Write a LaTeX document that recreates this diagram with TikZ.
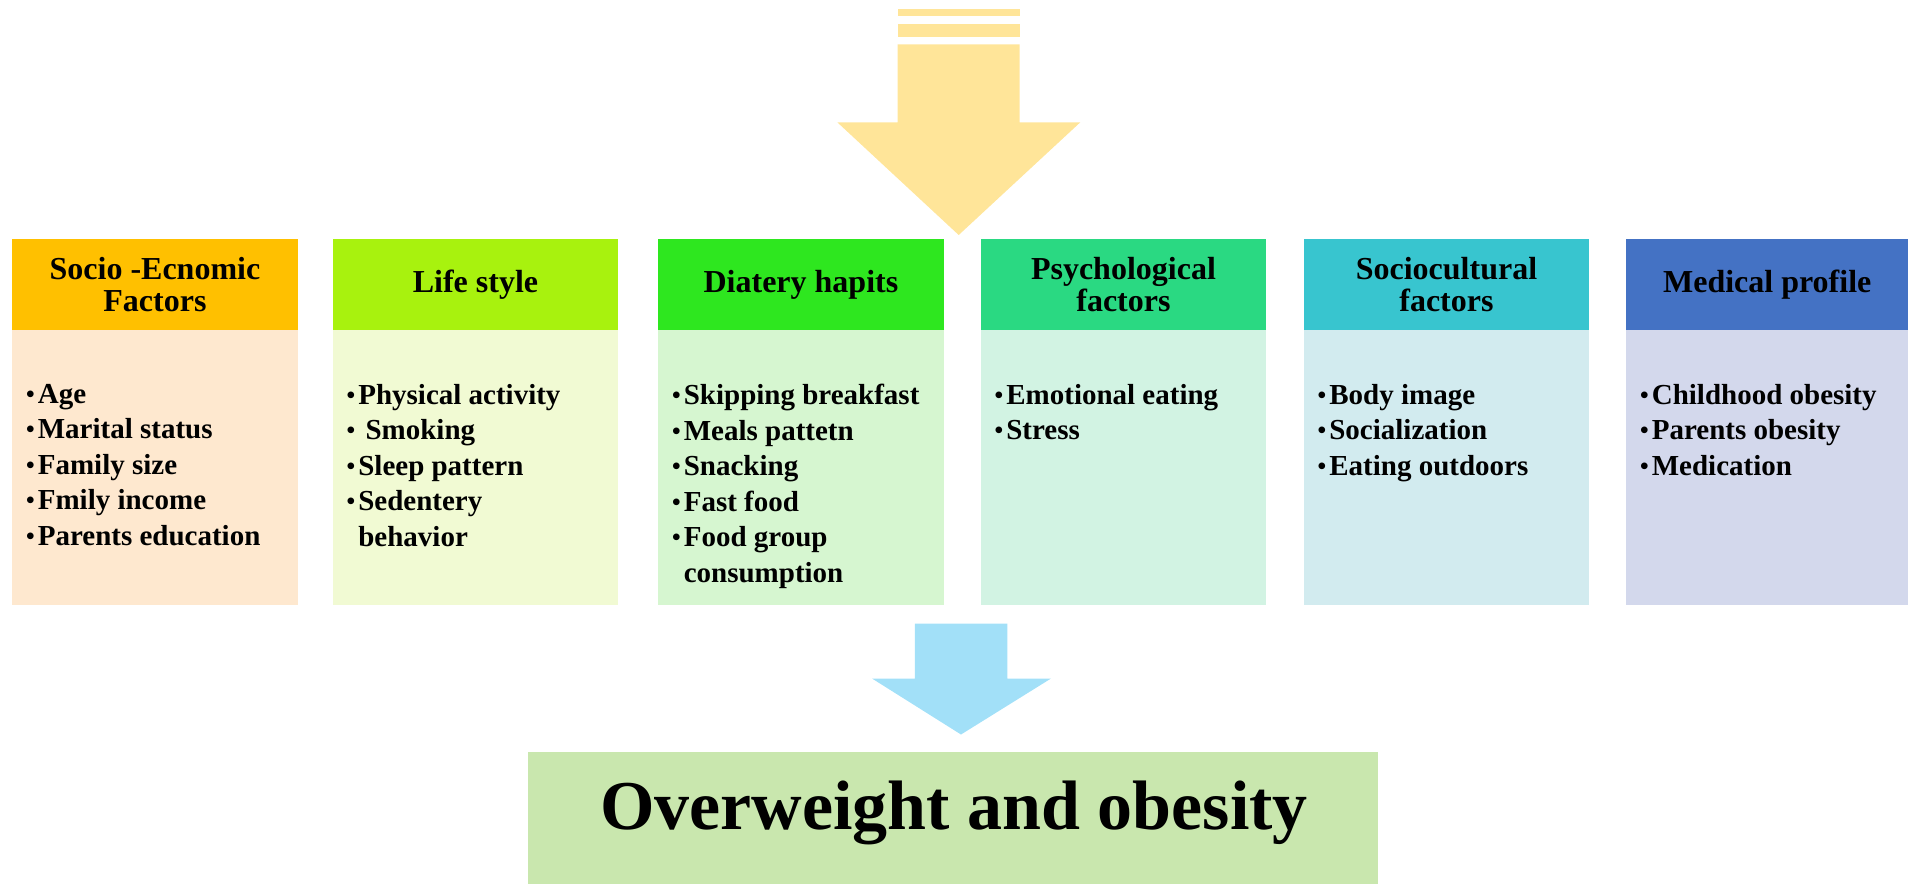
\documentclass[tikz,border=0pt]{standalone}
\usepackage{fontspec}
\setmainfont{Liberation Serif}
\definecolor{hA}{HTML}{FFC000}\definecolor{bA}{HTML}{FEE8CF}
\definecolor{hB}{HTML}{A8F20E}\definecolor{bB}{HTML}{F1FAD3}
\definecolor{hC}{HTML}{2EE71F}\definecolor{bC}{HTML}{D6F6D0}
\definecolor{hD}{HTML}{2AD982}\definecolor{bD}{HTML}{D2F3E3}
\definecolor{hE}{HTML}{38C5CF}\definecolor{bE}{HTML}{D2EBEF}
\definecolor{hF}{HTML}{4472C4}\definecolor{bF}{HTML}{D3D8EC}
\definecolor{arrowtop}{HTML}{FFE599}
\definecolor{arrowbot}{HTML}{A2E0F8}
\definecolor{outbox}{HTML}{C9E7AE}
\newcommand\bl{\raisebox{1pt}{\scalebox{0.85}{•}}\kern3pt}
\newcommand\blsp{\phantom{\bl}}
\begin{document}
\begin{tikzpicture}[x=1pt,y=-1pt,
  hdrbox/.style={anchor=north west, minimum height=91pt, inner sep=0pt, align=center,
     font=\fontsize{32}{32.5}\selectfont\bfseries},
  bodybox/.style={anchor=north west, minimum height=275pt, inner sep=0pt},
  listtext/.style={anchor=north west, inner sep=0pt, align=left,
     font=\fontsize{29}{35.5}\selectfont\bfseries},
  outnode/.style={anchor=north west, minimum width=850pt, minimum height=132pt, inner sep=0pt, fill=outbox}]
\useasboundingbox (0,0) rectangle (1910,884);
% top arrow
\fill[arrowtop] (897.7,9.3) rectangle (1019.7,16);
\fill[arrowtop] (897.7,23.7) rectangle (1019.7,37.3);
\fill[arrowtop] (897.7,44.3) -- (1019.7,44.3) -- (1019.7,122.3) -- (1080.3,122.3) -- (958.7,235) -- (837.3,122.3) -- (897.7,122.3) -- cycle;
% boxes
\foreach \n/\x/\w/\bc in {1/12/285.5/bA, 2/332.5/285.5/bB, 3/658/285.5/bC, 4/980.5/285.5/bD, 5/1303.5/285.5/bE, 6/1626/282/bF}{
  \node[bodybox, fill=\bc, minimum width=\w pt] (b\n) at (\x,330) {};
}
\node[hdrbox, fill=hA, minimum width=285.5pt] (h1) at (12,239) {Socio -Ecnomic\\Factors};
\node[hdrbox, fill=hB, minimum width=285.5pt] (h2) at (332.5,239) {Life style};
\node[hdrbox, fill=hC, minimum width=285.5pt] (h3) at (658,239) {Diatery hapits};
\node[hdrbox, fill=hD, minimum width=285.5pt] (h4) at (980.5,239) {Psychological\\factors};
\node[hdrbox, fill=hE, minimum width=285.5pt] (h5) at (1303.5,239) {Sociocultural\\factors};
\node[hdrbox, fill=hF, minimum width=282pt] (h6) at (1626,239) {Medical profile};
% lists
\node[listtext] (l1) at (26,384) {\bl Age\\\bl Marital status\\\bl Family size\\\bl Fmily income\\\bl Parents education};
\node[listtext] (l2) at (346.5,384) {\bl Physical activity\\\bl\ Smoking\\\bl Sleep pattern\\\bl Sedentery\\\blsp behavior};
\node[listtext] (l3) at (672,384) {\bl Skipping breakfast\\\bl Meals pattetn\\\bl Snacking\\\bl Fast food\\\bl Food group\\\blsp consumption};
\node[listtext] (l4) at (994.5,384) {\bl Emotional eating\\\bl Stress};
\node[listtext] (l5) at (1317.5,384) {\bl Body image\\\bl Socialization\\\bl Eating outdoors};
\node[listtext] (l6) at (1640,384) {\bl Childhood obesity\\\bl Parents obesity\\\bl Medication};
% bottom arrow
\fill[arrowbot] (914.8,623.6) -- (1007.4,623.6) -- (1007.4,678.5) -- (1051,678.5) -- (961,734.5) -- (872,678.5) -- (914.8,678.5) -- cycle;
% outcome box
\node[outnode] (out) at (527.5,752) {};
\node[anchor=base, inner sep=0pt, font=\fontsize{70}{70}\selectfont\bfseries] (outtext) at (954,829) {Overweight and obesity};
\end{tikzpicture}
\end{document}
